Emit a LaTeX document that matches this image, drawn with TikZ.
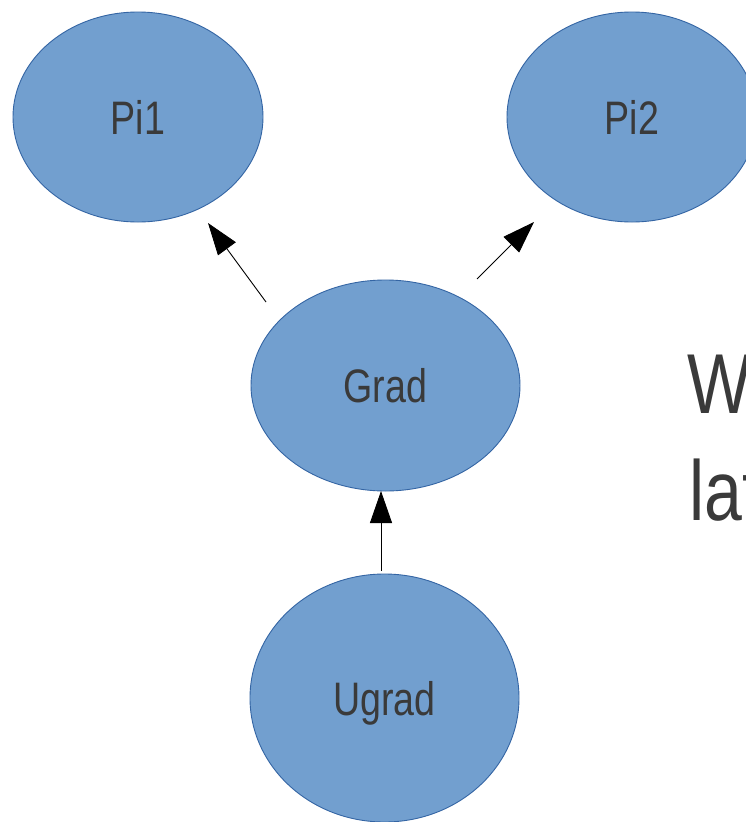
\documentclass[tikz,border=0pt]{standalone}
\usepackage{fontspec}
\setmainfont{Liberation Sans}[FakeStretch=0.8]
\usetikzlibrary{shapes.geometric,arrows.meta}
\definecolor{nodefill}{HTML}{729FCF}
\definecolor{nodeline}{HTML}{3465A4}
\definecolor{txt}{HTML}{3A3A3A}
\tikzset{
  bubble/.style={ellipse, fill=nodefill, draw=nodeline, line width=0.9pt, inner sep=0pt,
    text=txt, font=\fontsize{47}{56}\selectfont, text height=34pt, text depth=0pt},
  conn/.style={line width=0.9pt, -{Triangle[length=32pt,width=22pt]}},
  bigtext/.style={text=txt, font=\fontsize{85}{107}\selectfont, inner sep=0pt, anchor=base west}
}
\begin{document}
\begin{tikzpicture}[x=1pt,y=-1pt]
\useasboundingbox (0,0) rectangle (746,822);
\clip (0,0) rectangle (746,822);
\fill[white] (0,0) rectangle (746,822);
\node[bubble, minimum width=250pt, minimum height=210pt] (pi1) at (138,117) {Pi1};
\node[bubble, minimum width=250pt, minimum height=210pt] (pi2) at (632,117) {Pi2};
\node[bubble, minimum width=269pt, minimum height=211pt] (grad) at (385.5,385.5) {Grad};
\node[bubble, minimum width=269pt, minimum height=248pt] (ugrad) at (384.5,698) {Ugrad};
\coordinate (g1) at (266,302);
\coordinate (p1) at (208,223);
\coordinate (g2) at (477,279);
\coordinate (p2) at (534,222);
\coordinate (u1) at (381,571);
\coordinate (g3) at (381,491);
\draw[conn] (g1) -- (p1);
\draw[conn] (g2) -- (p2);
\draw[conn] (u1) -- (g3);
\node[bigtext] (t1) at (687,413) {W};
\node[bigtext] (t2) at (689,520) {lat};
\end{tikzpicture}
\end{document}
